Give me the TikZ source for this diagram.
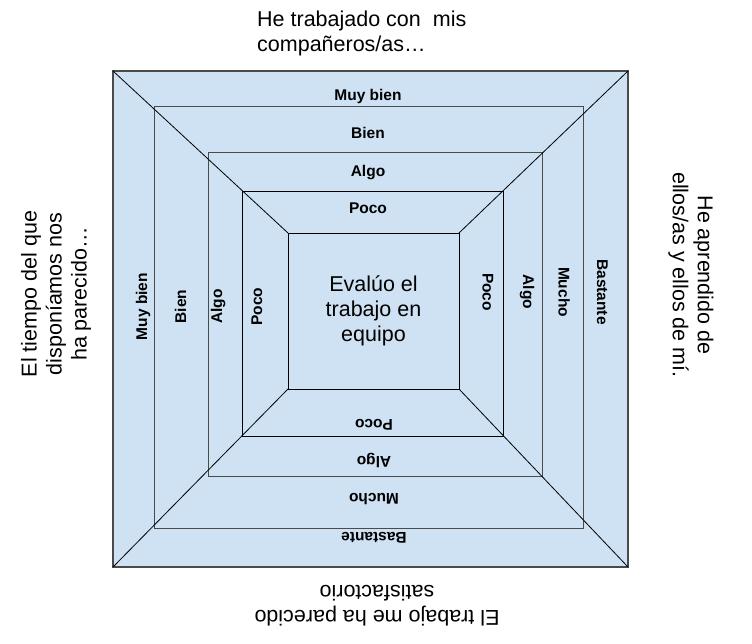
\documentclass[tikz,border=0pt]{standalone}
\usepackage{fontspec}
\setmainfont{Liberation Sans}
\definecolor{bandfill}{HTML}{CFE2F3}
\definecolor{bandline}{HTML}{4A4A4A}

\begin{document}
\begin{tikzpicture}[x=1pt,y=-1pt,
    band/.style={draw=bandline,fill=bandfill,line width=1pt,inner sep=0pt,outer sep=0pt},
    tag/.style={font=\bfseries\fontsize{15.5}{18}\selectfont,text height=11.3pt,text depth=3.3pt,inner sep=0pt},
    note/.style={font=\fontsize{21.5}{25}\selectfont,align=center,inner sep=0pt}]
  \useasboundingbox (0,0) rectangle (752,643);
  \node[band,line width=1.3pt,minimum width=515pt,minimum height=496pt] (r1) at (370.5,319) {};
  \node[band,minimum width=429pt,minimum height=422pt] (r2) at (368.5,317) {};
  \node[band,minimum width=334pt,minimum height=324pt] (r3) at (375,314) {};
  \node[band,draw=black,minimum width=261pt,minimum height=245pt] (r4) at (372.5,313.5) {};
  \node[band,draw=black,note,minimum width=171pt,minimum height=156pt] (core) at (373.5,311)
    {Evalúo el\\trabajo en\\equipo};
  \draw[line width=0.8pt]
  (r1.north west) -- (core.north west)
  (r1.north east) -- (core.north east)
  (r1.south east) -- (core.south east)
  (r1.south west) -- (core.south west);
  \node[tag] (t1) at (368,96.5) {Muy bien};
  \node[tag] (t2) at (368,134) {Bien};
  \node[tag] (t3) at (368,172.5) {Algo};
  \node[tag] (t4) at (368,209) {Poco};
  \node[tag,rotate=180] (b1) at (374,536) {Bastante};
  \node[tag,rotate=180] (b2) at (374,497) {Mucho};
  \node[tag,rotate=180] (b3) at (374,460) {Algo};
  \node[tag,rotate=180] (b4) at (374,423) {Poco};
  \node[tag,rotate=90] (l1) at (143,306.5) {Muy bien};
  \node[tag,rotate=90] (l2) at (182,306.5) {Bien};
  \node[tag,rotate=90] (l3) at (218,306.5) {Algo};
  \node[tag,rotate=90] (l4) at (258,306.5) {Poco};
  \node[tag,rotate=-90] (s1) at (601,292) {Bastante};
  \node[tag,rotate=-90] (s2) at (562.5,292) {Mucho};
  \node[tag,rotate=-90] (s3) at (527,292) {Algo};
  \node[tag,rotate=-90] (s4) at (486.5,292) {Poco};
  \node[note,align=left,anchor=north west] (top) at (257,11) {He trabajado con\ \ mis\\compañeros/as…};
  \node[note,rotate=90] (left) at (56,294) {El tiempo del que\\disponíamos nos\\ha parecido…};
  \node[note,rotate=-90] (right) at (691,275) {He aprendido de\\ellos/as y ellos de mí.};
  \node[note,rotate=180] (bottom) at (377,606) {El trabajo me ha parecido\\satisfactorio};
\end{tikzpicture}
\end{document}
